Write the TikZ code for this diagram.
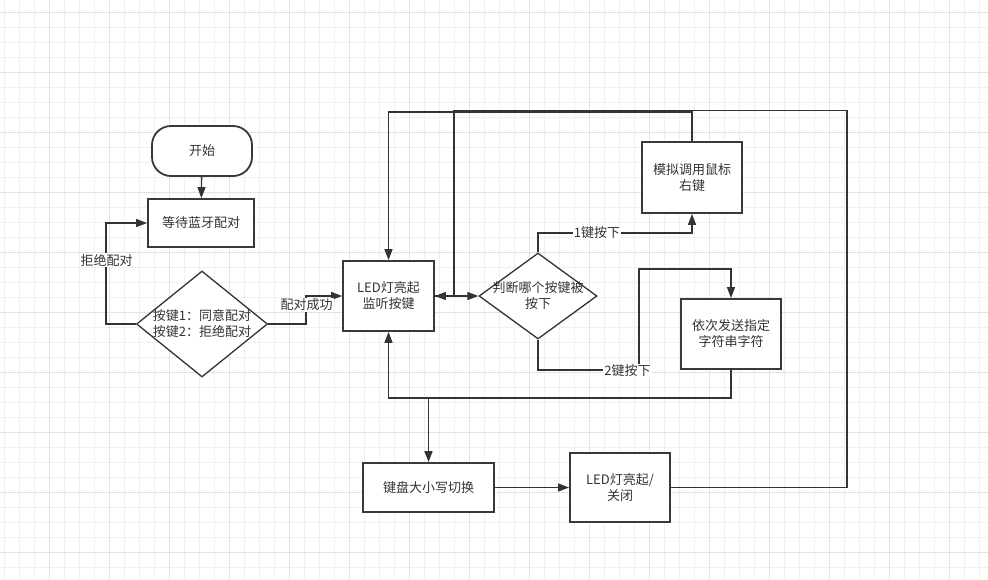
\documentclass[tikz,border=0pt]{standalone}
\usepackage{fontspec}
\newfontfamily\cjk{Noto Sans CJK SC}
\usetikzlibrary{shapes.geometric,arrows.meta}
\definecolor{ink}{HTML}{333333}
\definecolor{boxc}{HTML}{36393D}
\definecolor{gridminor}{HTML}{F0F0F0}
\definecolor{gridmajor}{HTML}{E2E2E2}
\begin{document}
\begin{tikzpicture}[x=1pt,y=-1pt,
  every node/.style={font=\cjk\fontsize{13}{16}\selectfont, text=ink},
  box/.style={draw=boxc, line width=1.8pt, fill=white, rectangle, inner sep=0, align=center},
  startbox/.style={box, rounded corners=19pt},
  dia/.style={draw=ink, line width=1.3pt, fill=white, diamond, inner sep=0},
  txt/.style={align=center, inner sep=0},
  conn/.style={draw=ink, line width=1.3pt},
  arr/.style={conn, -{Triangle[length=11pt,width=8pt]}},
  lbl/.style={fill=white, inner sep=1pt},
]
\fill[white] (0,0) rectangle (988,579);
\useasboundingbox (0,0) rectangle (988,579);
% grid
\foreach \x in {4,19,...,988} {\draw[gridminor, line width=1pt] (\x,0) -- (\x,579);}
\foreach \y in {12,27,...,579} {\draw[gridminor, line width=1pt] (0,\y) -- (988,\y);}
\foreach \x in {49,109,...,988} {\draw[gridmajor, line width=1pt] (\x,0) -- (\x,579);}
\foreach \y in {12,72,...,579} {\draw[gridmajor, line width=1pt] (0,\y) -- (988,\y);}

% nodes
\node[startbox, minimum width=100, minimum height=50] (start) at (202,151) {开始};
\node[box, minimum width=106, minimum height=48] (wait) at (201,223) {等待蓝牙配对};
\node[dia, minimum width=131, minimum height=106] (d1) at (202,324) {};
\node[txt] (d1t) at (d1) {按键1：同意配对\\按键2：拒绝配对};
\node[box, minimum width=91, minimum height=70] (led) at (388.5,296) {LED灯亮起\\监听按键};
\node[dia, minimum width=118, minimum height=86] (d2) at (538,296) {};
\node[txt] (d2t) at (d2) {判断哪个按键被\\按下};
\node[box, minimum width=100, minimum height=71] (mouse) at (692,177.5) {模拟调用鼠标\\右键};
\node[box, minimum width=100, minimum height=70] (str) at (731,334) {依次发送指定\\字符串字符};
\node[box, minimum width=131, minimum height=49] (kb) at (428.5,487.5) {键盘大小写切换};
\node[box, minimum width=100, minimum height=69] (led2) at (620,487.5) {LED灯亮起/\\关闭};

% connectors
\draw[arr] (start) -- (wait);
\draw[arr] (d1.west) -- ++(-30,0) |- (wait.west);
\draw[arr] (d1.east) -- (306,324) -- (306,296) -- (led.west);
\draw[arr] (led2.east) -- (847,487.5) -- (847,110.5) -- (454,110.5) -- (454,296) -- (led.east);
\draw[arr] (led.east) -- (d2.west);
\draw[arr] (d2.north) -- (538,233) -| (mouse.south);
\draw[arr] (mouse.north) -- ++(0,-29) -| (led.north);
\draw[arr] (d2.south) -- (538,370) -- (639,370) -- (639,269) -| (str.north);
\draw[arr] (str.south) -- (731,398) -| (led.south);
\coordinate (j) at (428.5,398);
\draw[arr] (j) -- (kb.north);
\draw[arr] (kb.east) -- (led2.west);

% labels
\node[lbl] (l1) at (106.5,260) {拒绝配对};
\node[lbl] (l2) at (306.5,305) {配对成功};
\node[lbl] (l3) at (597,233) {1键按下};
\node[lbl] (l4) at (627.5,371) {2键按下};
\end{tikzpicture}
\end{document}
